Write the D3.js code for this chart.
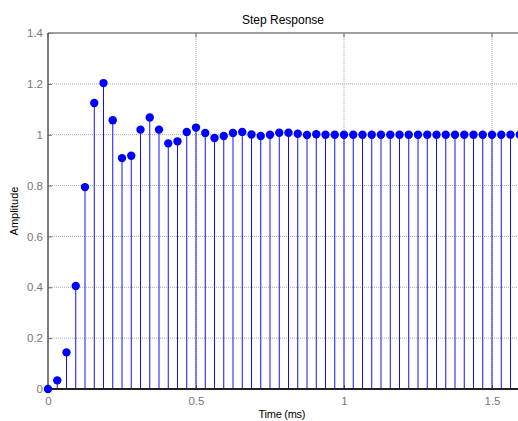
<!DOCTYPE html>
<html>
<head>
<meta charset="utf-8">
<script src="https://cdn.jsdelivr.net/npm/d3@7"></script>
<style>
  body { margin: 0; background: #fff; }
  svg { display: block; font-family: "Liberation Sans", Arial, sans-serif; }
</style>
</head>
<body>
<div id="chart"></div>
<script>
// sample period 1/32 ms
var period = 0.03125;
var amplitude = [0, 0.034, 0.144, 0.405, 0.794, 1.125, 1.203, 1.057, 0.908, 0.917,
                 1.020, 1.068, 1.020, 0.966, 0.974, 1.011, 1.028, 1.007, 0.987, 0.995,
                 1.007, 1.011, 1.001, 0.995, 1.000, 1.008, 1.008, 1.004, 0.999, 1.002,
                 1.000, 1.000, 1.000, 1.000, 1.000, 1.000, 1.000, 1.000, 1.000, 1.000,
                 1.000, 1.000, 1.000, 1.000, 1.000, 1.000, 1.000, 1.000, 1.000, 1.000,
                 1.000, 1.000];
var xTicks = [0, 0.5, 1, 1.5];
var yTicks = [0, 0.2, 0.4, 0.6, 0.8, 1, 1.2, 1.4];

var width = 518, height = 421;
var plotLeft = 48, plotTop = 33, plotBottom = 389;

var svg = d3.select('#chart').append('svg')
    .attr('width', width).attr('height', height);

var x = d3.scaleLinear().domain([0, 1.6]).range([plotLeft, plotLeft + 1.6 * 296]);
var y = d3.scaleLinear().domain([0, 1.4]).range([plotBottom, plotTop]);
var plotRight = x(1.6);

// grid
svg.append('g').selectAll('line').data(yTicks.slice(1, -1)).enter().append('line')
    .attr('x1', plotLeft).attr('x2', plotRight)
    .attr('y1', function (d) { return y(d); }).attr('y2', function (d) { return y(d); })
    .style('stroke', '#a8a8a8').attr('stroke-dasharray', '1,1');
svg.append('g').selectAll('line').data(xTicks.slice(1)).enter().append('line')
    .attr('x1', function (d) { return x(d); }).attr('x2', function (d) { return x(d); })
    .attr('y1', plotTop).attr('y2', plotBottom)
    .style('stroke', '#a8a8a8').attr('stroke-dasharray', '1,1');

// axes with inward ticks
var yAxis = svg.append('g').attr('transform', 'translate(' + plotLeft + ',0)')
    .call(d3.axisLeft(y).tickValues(yTicks).tickSizeInner(-4).tickSizeOuter(0).tickPadding(5)
        .tickFormat(function (d) { return d3.format('~g')(d); }));
var xAxis = svg.append('g').attr('transform', 'translate(0,' + plotBottom + ')')
    .call(d3.axisBottom(x).tickValues(xTicks).tickSizeInner(-4).tickSizeOuter(0).tickPadding(8)
        .tickFormat(function (d) { return d3.format('~g')(d); }));
[yAxis, xAxis].forEach(function (a) {
    a.select('.domain').remove();
    a.selectAll('.tick line').style('stroke', '#666');
    a.selectAll('.tick text').style('fill', '#777').style('font-size', '11.5px')
        .style('font-family', '"Liberation Sans", Arial, sans-serif');
});

// top ticks
svg.append('g').selectAll('line').data(xTicks).enter().append('line')
    .attr('x1', function (d) { return x(d); }).attr('x2', function (d) { return x(d); })
    .attr('y1', plotTop).attr('y2', plotTop + 4).style('stroke', '#666');

// box
svg.append('line').attr('x1', plotLeft).attr('x2', plotRight).attr('y1', plotTop).attr('y2', plotTop)
    .style('stroke', '#808080').attr('stroke-width', 1.5);
svg.append('line').attr('x1', plotLeft).attr('x2', plotLeft).attr('y1', plotTop).attr('y2', plotBottom)
    .style('stroke', '#555').attr('stroke-width', 1.5);

// stems
var pts = amplitude.map(function (v, i) { return { t: i * period, v: v }; });
svg.append('g').selectAll('line').data(pts).enter().append('line')
    .attr('x1', function (d) { return x(d.t); }).attr('x2', function (d) { return x(d.t); })
    .attr('y1', y(0)).attr('y2', function (d) { return y(d.v); })
    .style('stroke', '#1010ff').attr('stroke-width', 1);

// baseline
svg.append('line').attr('x1', plotLeft).attr('x2', plotRight).attr('y1', y(0)).attr('y2', y(0))
    .style('stroke', '#222').attr('stroke-width', 2);

svg.append('g').selectAll('circle').data(pts).enter().append('circle')
    .attr('cx', function (d) { return x(d.t); }).attr('cy', function (d) { return y(d.v); })
    .attr('r', 4.2).attr('fill', '#0000ff');

// labels
svg.append('text').attr('x', 283).attr('y', 24).attr('text-anchor', 'middle')
    .style('font-size', '12px').style('fill', '#000').text('Step Response');
svg.append('text').attr('x', 282).attr('y', 418).attr('text-anchor', 'middle')
    .style('font-size', '11px').style('fill', '#000').attr('textLength', 47).text('Time (ms)');
svg.append('text').attr('transform', 'translate(18,' + ((plotTop + plotBottom) / 2) + ') rotate(-90)')
    .attr('text-anchor', 'middle').style('font-size', '11px').style('fill', '#000').text('Amplitude');
</script>
</body>
</html>
